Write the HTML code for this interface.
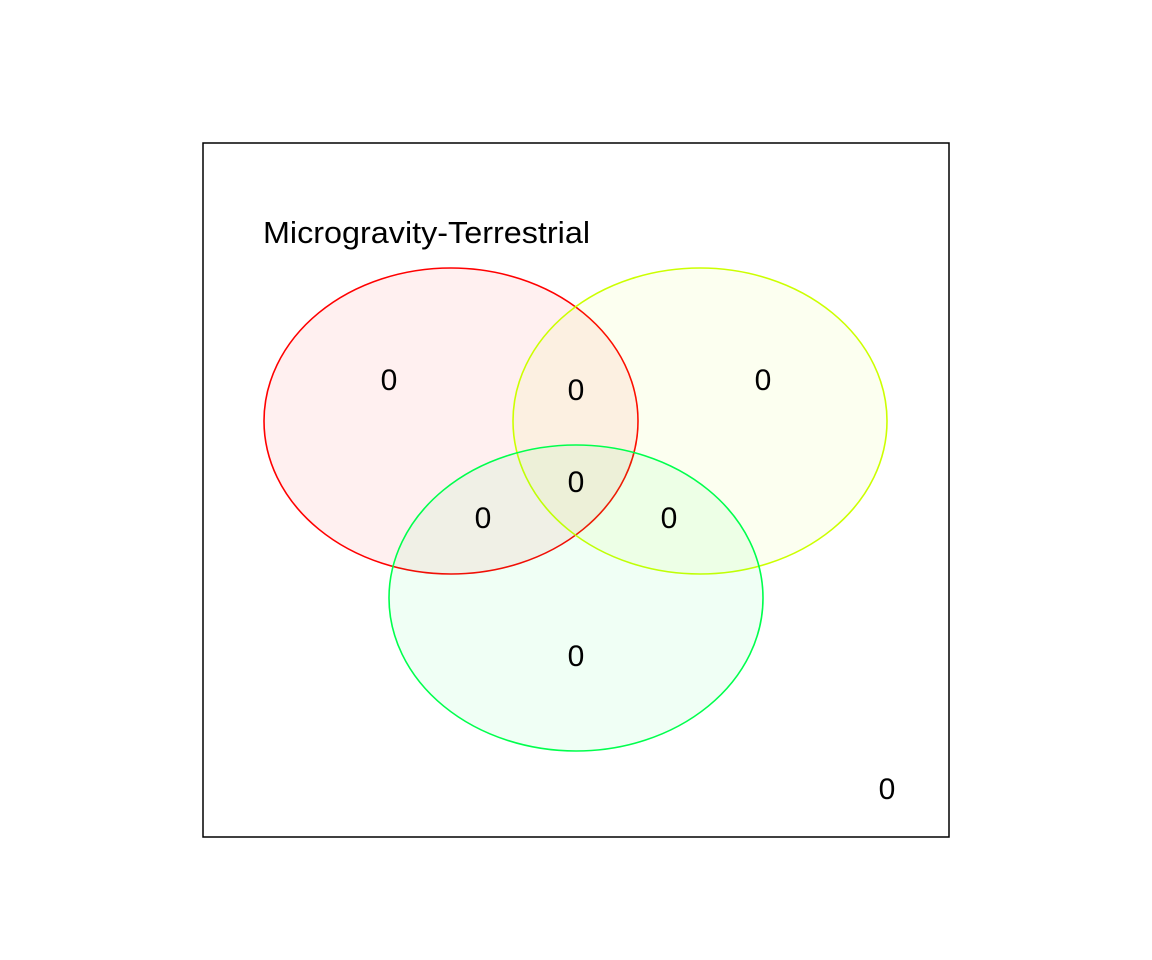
<!DOCTYPE html>
<html><head><meta charset="utf-8"><style>
body{margin:0;background:#fff;}
svg{display:block;font-family:"Liberation Sans",sans-serif;}
</style></head><body>
<svg width="1152" height="960">
<rect x="203" y="143" width="746" height="694" fill="none" stroke="#000" stroke-width="1.5"/>
<text x="263" y="243" font-size="31" fill="#000" textLength="327" lengthAdjust="spacingAndGlyphs">Microgravity-Terrestrial</text>
<g id="sets"></g>
<g id="labels"></g>
</svg>
<script>
const setNames=["A","B","C"];
const setColors=["#FF0000","#CCFF00","#00FF4D"];
const regionNames=["A","AB","B","ABC","AC","BC","C","none"];
const regionCounts=[0,0,0,0,0,0,0,0];
const ns="http://www.w3.org/2000/svg";
const centers=[[451,421],[700,421],[576,598]];
const rx=187,ry=153;
const g=document.getElementById("sets");
setNames.forEach((n,i)=>{
 const e=document.createElementNS(ns,"ellipse");
 e.setAttribute("cx",centers[i][0]);e.setAttribute("cy",centers[i][1]);
 e.setAttribute("rx",rx);e.setAttribute("ry",ry);
 e.setAttribute("fill",setColors[i]);e.setAttribute("fill-opacity","0.06");
 e.setAttribute("stroke",setColors[i]);e.setAttribute("stroke-width","1.6");
 
 
 g.appendChild(e);
});
const pos=[[389,379],[576,389],[763,379],[576,481],[483,517],[669,517],[576,655],[887,788]];
const lg=document.getElementById("labels");
regionNames.forEach((r,i)=>{
 const t=document.createElementNS(ns,"text");
 t.setAttribute("x",pos[i][0]);t.setAttribute("y",pos[i][1]+11);
 t.setAttribute("text-anchor","middle");t.setAttribute("font-size","30");
 t.textContent=regionCounts[i];
 
 
 lg.appendChild(t);
});
</script>
</body></html>
